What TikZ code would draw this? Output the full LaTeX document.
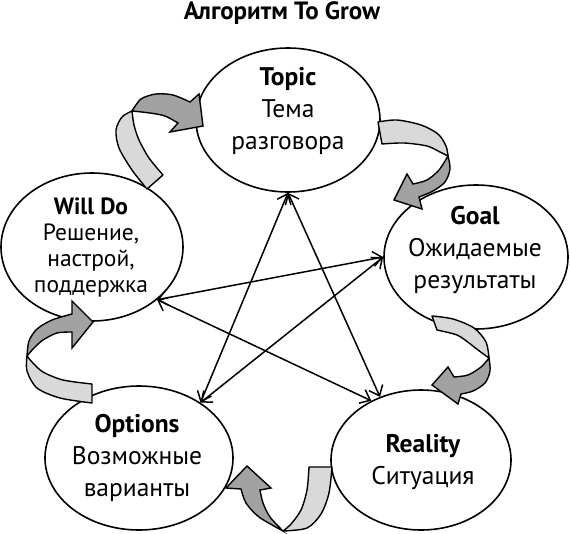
\documentclass[tikz,border=0pt]{standalone}
\usepackage{fontspec}
\setmainfont{PT Sans}
\usetikzlibrary{shapes.geometric,arrows.meta}
\definecolor{lightg}{HTML}{D9D9D9}
\definecolor{darkg}{HTML}{A2A2A2}
\begin{document}
\begin{tikzpicture}[x=1pt,y=-1pt,
  ell/.style={ellipse,draw,line width=1.6pt,fill=white,inner sep=0pt},
  lbl/.style={align=center,font=\fontsize{25.5}{32}\selectfont,inner sep=0pt},
  lightband/.style={fill=lightg,draw=black,line width=1.4pt,line join=round},
  darkband/.style={fill=darkg,draw=black,line width=1.4pt,line join=miter},
  link/.style={line width=1.5pt,>={Straight Barb[length=9pt,width=15pt]},<->}]
\useasboundingbox (0,0) rectangle (570,533);

\node[font=\bfseries\fontsize{25}{28}\selectfont] (title) at (282,13) {Алгоритм To Grow};

% ellipses
\node[ell,minimum width=184pt,minimum height=144pt] (topic) at (288,120) {};
\node[ell,minimum width=182pt,minimum height=148pt] (willdo) at (92,247) {};
\node[ell,minimum width=184pt,minimum height=144pt] (goal) at (476,257) {};
\node[ell,minimum width=188pt,minimum height=144pt] (options) at (139,458) {};
\node[ell,minimum width=180pt,minimum height=140pt] (reality) at (421,460) {};

% texts
\node[lbl] (topictxt) at (288,111) {\textbf{Topic}\\Тема\\разговора};
\node[lbl,font=\fontsize{23.5}{26}\selectfont] (willdotxt) at (91,247) {\textbf{Will Do}\\Решение,\\настрой,\\поддержка};
\node[lbl] (goaltxt) at (475,250) {\textbf{Goal}\\Ожидаемые\\результаты};
\node[lbl] (optionstxt) at (137,458) {\textbf{Options}\\Возможные\\варианты};
\node[lbl] (realitytxt) at (423,462) {\textbf{Reality}\\Ситуация};

% ribbon arrows
% Will Do -> Topic
\filldraw[lightband] plot[smooth] coordinates {(147,189) (132,170) (119,148) (116,130) (122,117) (132,111)} -- plot[smooth] coordinates {(132,111) (134,125) (139,140) (149,158) (163,175)} -- cycle;
\filldraw[darkband] plot[smooth] coordinates {(132,111) (141,99) (156,94) (173,95) (190,102)} -- (199,94) -- (203,126) -- (170,132) -- plot[smooth] coordinates {(178,123) (165,116) (150,113) (132,111)} -- cycle;
% Topic -> Goal
\filldraw[lightband] plot[smooth] coordinates {(378,122) (397,120) (421,125) (438,134) (446,146) (448,156)} -- plot[smooth] coordinates {(448,156) (440,152) (427,146) (404,143) (382,144)} -- cycle;
\filldraw[darkband] plot[smooth] coordinates {(448,156) (450,169) (445,182) (433,191) (419,197)} -- (422,209) -- (394,200) -- (407,174) -- plot[smooth] coordinates {(413,184) (427,180) (439,170) (448,156)} -- cycle;
% Goal -> Reality
\filldraw[lightband] plot[smooth] coordinates {(432,316) (453,319) (474,328) (486,342) (489,358)} -- plot[smooth] coordinates {(489,358) (478,350) (469,343) (457,335) (437,330)} -- cycle;
\filldraw[darkband] plot[smooth] coordinates {(489,358) (490,371) (485,383) (473,391) (461,394)} -- (458,404) -- (432,385) -- (448,367) -- plot[smooth] coordinates {(454,377) (468,375) (481,367) (489,358)} -- cycle;
% Reality -> Options
\filldraw[lightband] plot[smooth] coordinates {(332,467) (329,493) (321,514) (307,528) (283,531)} -- plot[smooth] coordinates {(283,531) (291,524) (301,510) (307,490) (309,467)} -- cycle;
\filldraw[darkband] plot[smooth] coordinates {(283,531) (259,517) (246,503) (241,489)} -- (226,488) -- (247,466) -- (271,488) -- plot[smooth] coordinates {(260,490) (263,503) (270,517) (283,531)} -- cycle;
% Options -> Will Do
\filldraw[lightband] plot[smooth] coordinates {(92,403) (60,398) (37,388) (27,371) (27,356)} -- plot[smooth] coordinates {(27,356) (32,362) (43,372) (63,380) (92,384)} -- cycle;
\filldraw[darkband] plot[smooth] coordinates {(27,356) (29,341) (37,329) (52,320) (72,314)} -- (72,301) -- (93,322) -- (72,348) -- plot[smooth] coordinates {(72,332) (57,333) (43,340) (34,348) (27,356)} -- cycle;

% star connectors
\draw[link] (topic.south) -- (options.42);
\draw[link] (topic.south) -- (reality.123);
\draw[link] (willdo.-39) -- (goal.west);
\draw[link] (willdo.-39) -- (reality.130);
\draw[link] (goal.west) -- (options.42);
\end{tikzpicture}
\end{document}
